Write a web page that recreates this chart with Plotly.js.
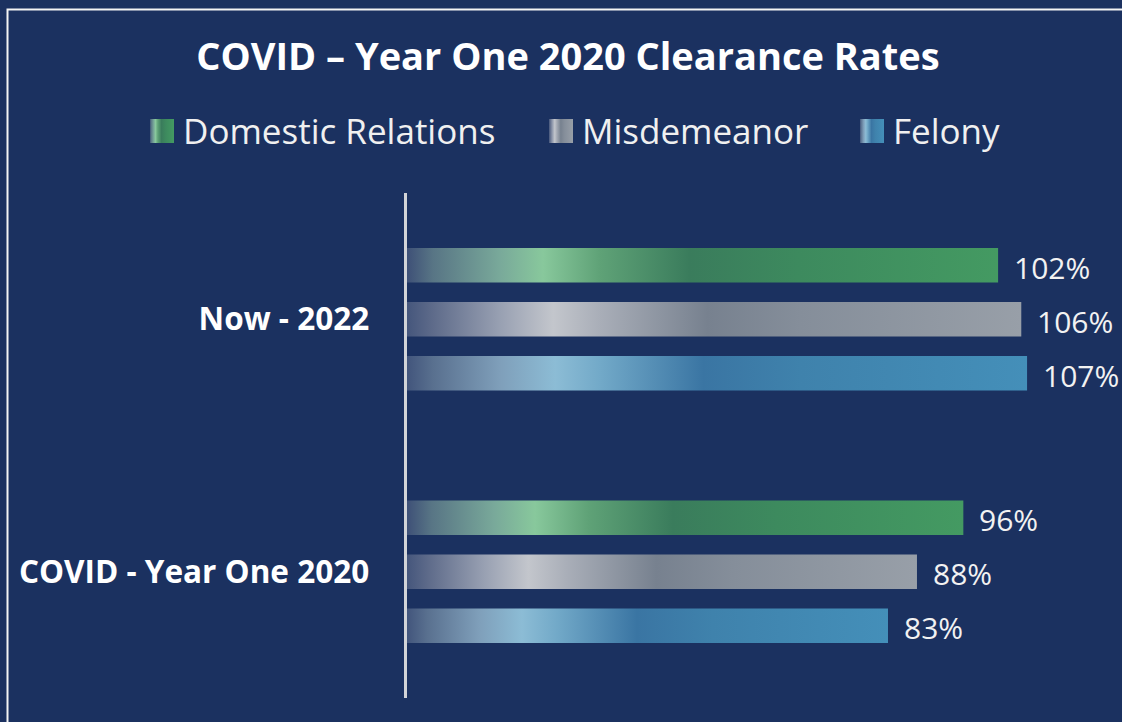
<!DOCTYPE html>
<html><head><meta charset="utf-8">
<script src="https://cdn.plot.ly/plotly-3.0.1.min.js"></script>
<style>html,body{margin:0;padding:0;background:#1b3160;overflow:hidden}#chart{width:1122px;height:722px}</style>
</head><body><div id="chart"></div>
<script>
// ---- data ----
const categories = ['COVID - Year One 2020', 'Now - 2022'];
const seriesNames = ['Domestic Relations', 'Misdemeanor', 'Felony'];
const domesticRelations = [96, 102];
const misdemeanor = [88, 106];
const felony = [83, 107];
const chartTitle = 'COVID – Year One 2020 Clearance Rates';

// ---- styles ----
const greenScale = [[0,'#3e5077'],[0.044,'#587585'],[0.157,'#79a99a'],[0.23,'#88c89c'],[0.326,'#5fa277'],[0.478,'#3a7c5c'],[0.664,'#3d8a5e'],[1,'#449a62']];
const grayScale  = [[0,'#45567c'],[0.042,'#5e6b8a'],[0.151,'#98a0b2'],[0.238,'#c3c6cc'],[0.314,'#a9aeb8'],[0.489,'#77818f'],[0.64,'#858e9a'],[1,'#989fa8']];
const blueScale  = [[0,'#42557c'],[0.042,'#59708f'],[0.15,'#7f9fba'],[0.239,'#8cbcd5'],[0.312,'#72a9c8'],[0.478,'#3a75a3'],[0.635,'#3f82ac'],[1,'#448fb9']];
const scales = [greenScale, grayScale, blueScale];
const seriesValues = [domesticRelations, misdemeanor, felony];
const offsets = [0.2138, 0, -0.2138];
const halfH = 0.0687;
const FONT = '"Open Sans", "Noto Sans", sans-serif';

const W = 1122, H = 722;
const M = {l: 407, r: 8, t: 193, b: 24};
const PW = W - M.l - M.r, PH = H - M.t - M.b;
const px = x => (x - M.l) / PW;
const py = y => (H - M.b - y) / PH;

const traces = [];
const annotations = [];
seriesValues.forEach((vals, s) => {
  vals.forEach((v, c) => {
    const yc = c + offsets[s];
    traces.push({
      type: 'scatter', mode: 'lines', fill: 'toself',
      x: [0, v, v, 0, 0],
      y: [yc - halfH, yc - halfH, yc + halfH, yc + halfH, yc - halfH],
      line: {width: 0, color: 'rgba(0,0,0,0)'},
      fillgradient: {type: 'horizontal', colorscale: scales[s], start: 0, stop: v},
      name: seriesNames[s], showlegend: false, hoverinfo: 'skip'
    });
    annotations.push({
      x: v, y: yc, xref: 'x', yref: 'y', text: v + '%', showarrow: false,
      xanchor: 'left', yanchor: 'middle', xshift: 14, yshift: -2,
      font: {family: FONT, size: 30, color: '#f2f2f2'}
    });
  });
});

// manual legend (gradient squares + text)
const legendSquareX = [150, 549, 860];
const legendTextX = [184, 583, 894];
const images = [];
scales.forEach((sc, s) => {
  const stops = sc.map(st => `<stop offset="${st[0]}" stop-color="${st[1]}"/>`).join('');
  const svg = `<svg xmlns="http://www.w3.org/2000/svg" width="24" height="24"><defs><linearGradient id="g" x1="0" x2="1" y1="0" y2="0">${stops}</linearGradient></defs><rect width="24" height="24" fill="url(#g)"/></svg>`;
  images.push({
    source: 'data:image/svg+xml;charset=utf-8,' + encodeURIComponent(svg),
    xref: 'paper', yref: 'paper', x: px(legendSquareX[s]), y: py(119),
    sizex: 24 / PW, sizey: 24 / PH, xanchor: 'left', yanchor: 'top',
    sizing: 'stretch', layer: 'above'
  });
  annotations.push({
    xref: 'paper', yref: 'paper', x: px(legendTextX[s]), y: py(131),
    xanchor: 'left', yanchor: 'middle', showarrow: false, text: seriesNames[s],
    xshift: -3,
    font: {family: FONT, size: 35, color: '#f0f0f0'}
  });
});

const layout = {
  width: W, height: H,
  paper_bgcolor: '#1b3160', plot_bgcolor: '#1b3160',
  margin: M, showlegend: false, hovermode: false,
  title: {text: chartTitle, x: 568 / W, xanchor: 'center', xref: 'container',
          y: 1 - 57 / H, yanchor: 'middle', yref: 'container',
          font: {family: FONT, size: 38, color: '#ffffff', weight: 'bold'}},
  xaxis: {range: [0, 122], visible: false, fixedrange: true},
  yaxis: {range: [-0.5, 1.5], tickvals: [0, 1], ticktext: categories,
          showgrid: false, zeroline: false, showline: true, linecolor: '#d2d4d8', linewidth: 3.5,
          ticks: '', ticklabelstandoff: 28, fixedrange: true,
          tickfont: {family: FONT, size: 31.5, color: '#ffffff', weight: 'bold'}},
  annotations: annotations,
  images: images,
  shapes: [{type: 'rect', xref: 'paper', yref: 'paper',
            x0: px(7.5), x1: px(1135), y0: py(735), y1: py(9.5),
            line: {color: '#f4f4f4', width: 2}, fillcolor: 'rgba(0,0,0,0)', layer: 'above'}]
};

Plotly.newPlot('chart', traces, layout, {staticPlot: true, displayModeBar: false});
</script></body></html>
